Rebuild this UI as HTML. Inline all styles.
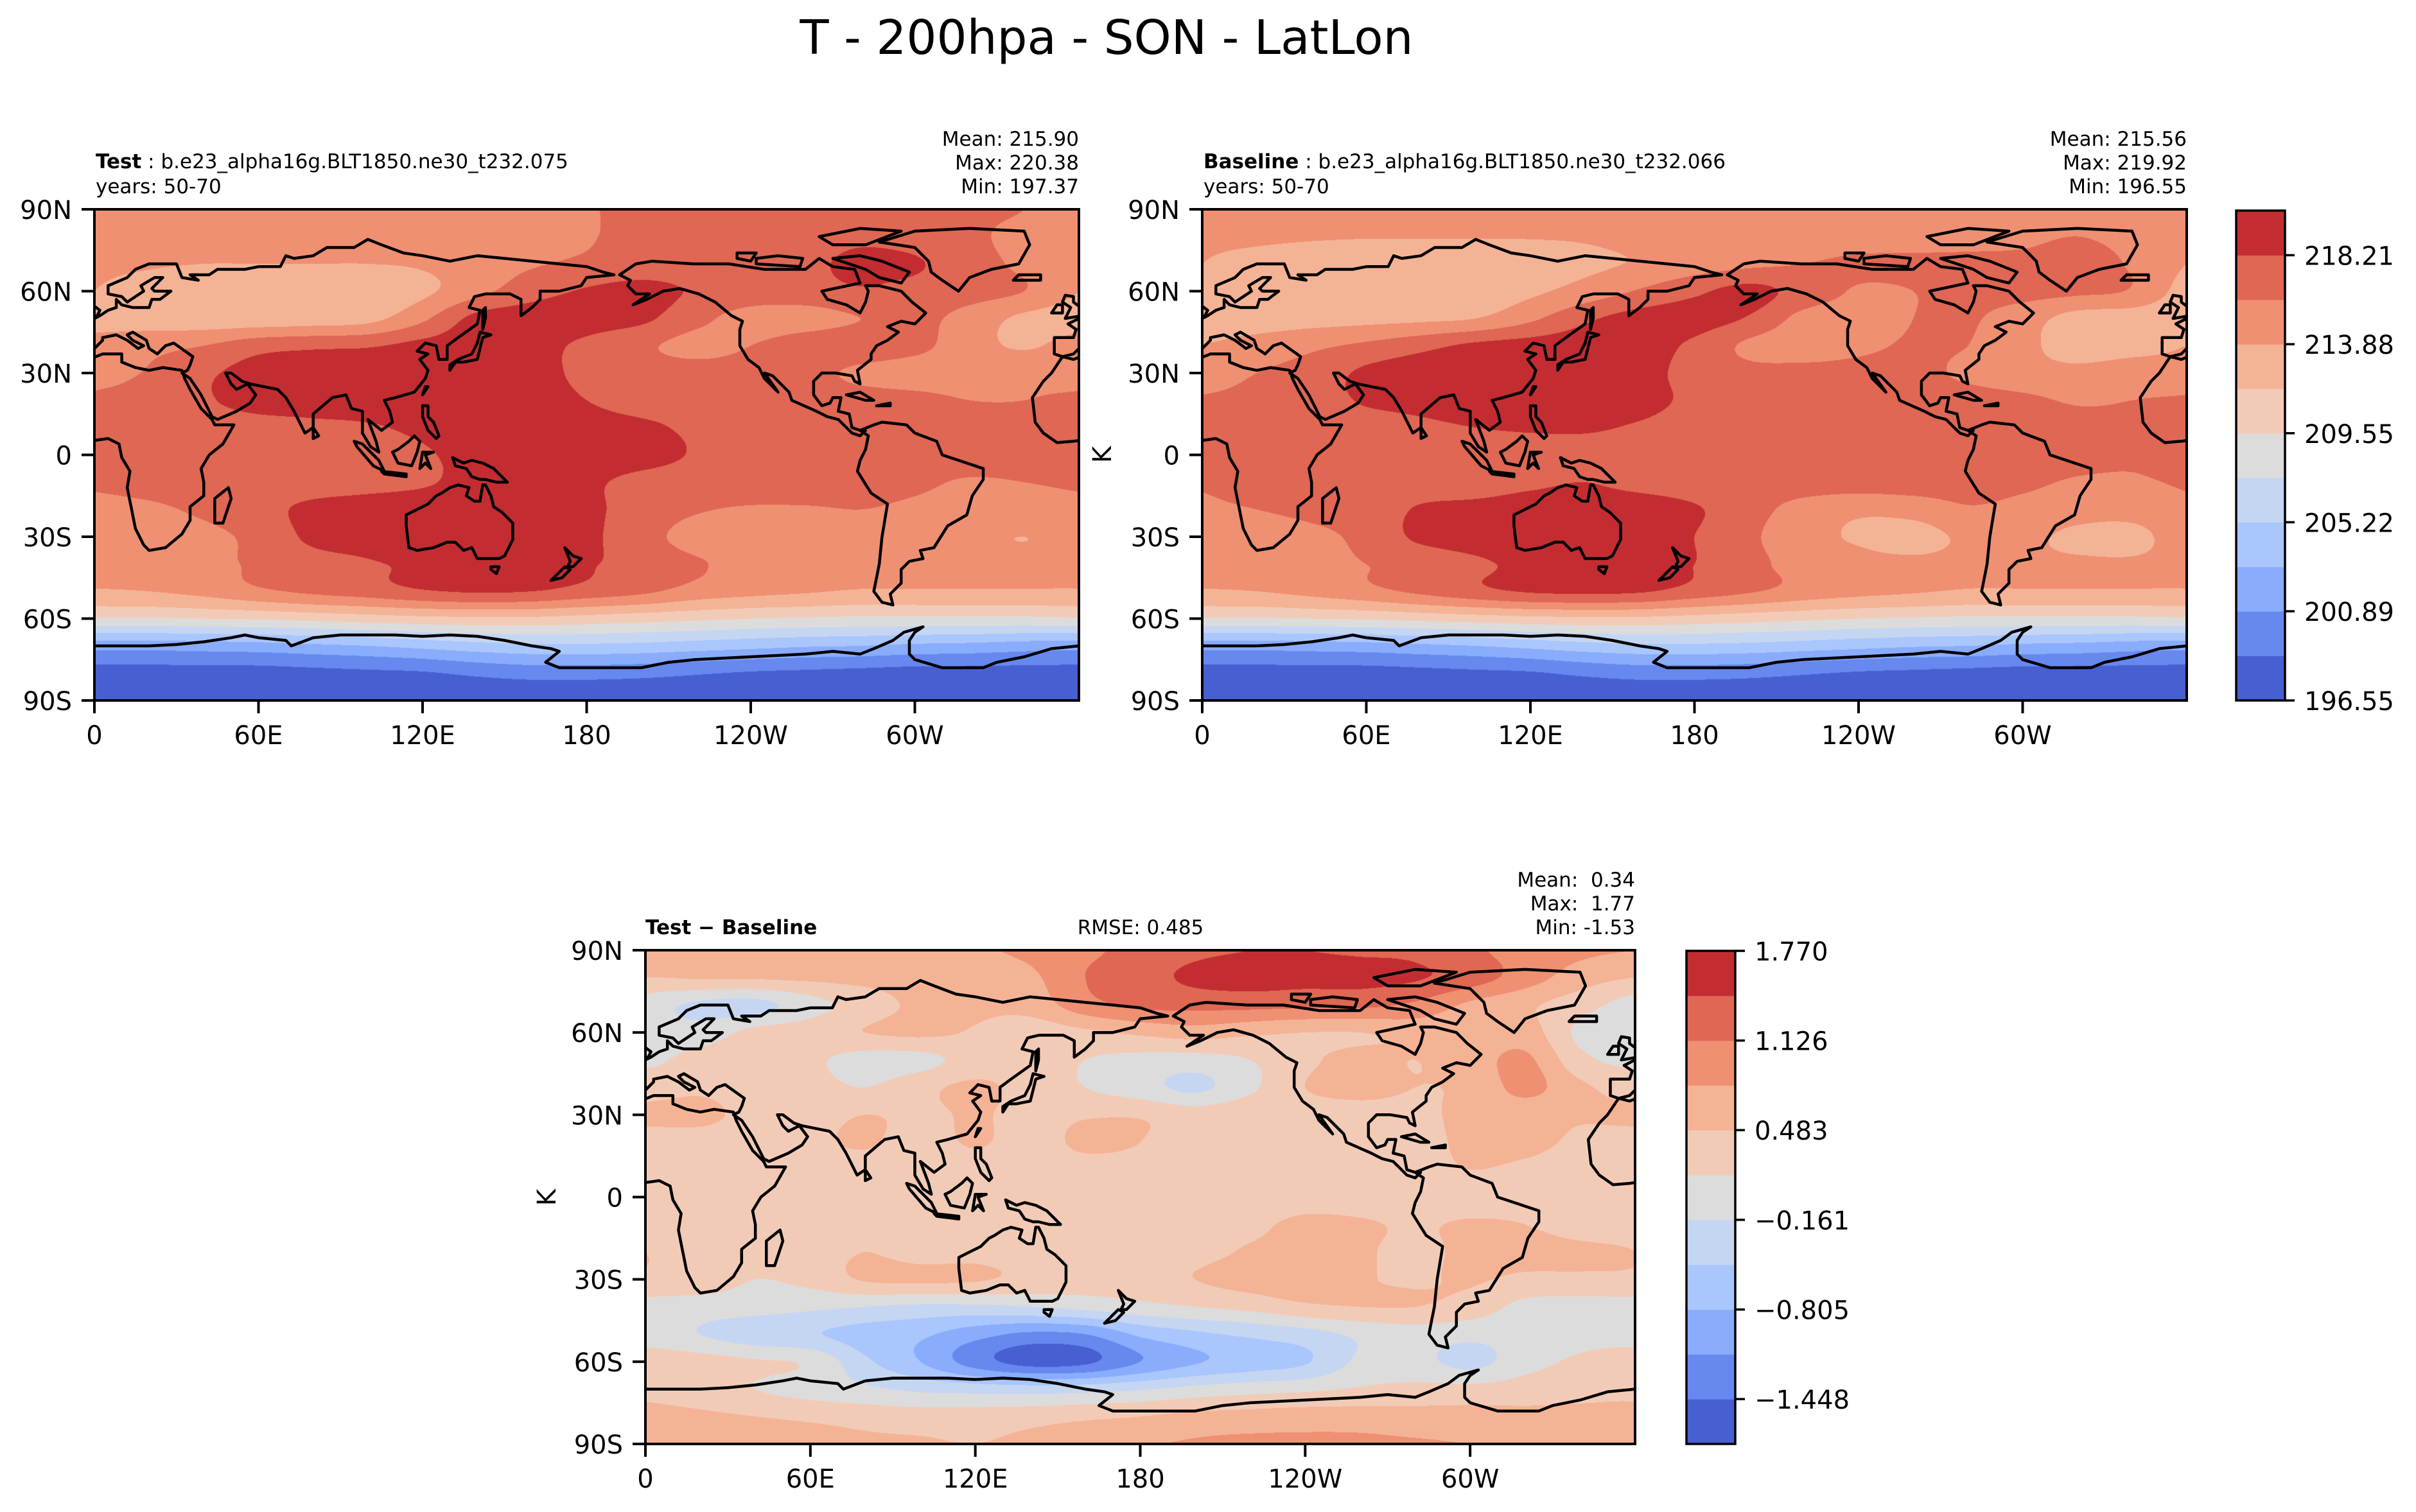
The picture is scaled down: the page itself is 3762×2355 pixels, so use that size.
<!DOCTYPE html>
<html><head><meta charset="utf-8"><style>
html,body{margin:0;padding:0;background:#fff;}
#root{position:relative;width:3762px;height:2355px;overflow:hidden;background:#fff;}
canvas{position:absolute;}
svg{position:absolute;left:0;top:0;}
text{font-family:"DejaVu Sans","Liberation Sans",sans-serif;fill:#000;}
</style></head><body>
<div id="root">
<canvas id="c1" style="left:147px;top:326px" width="1533" height="765"></canvas>
<canvas id="c2" style="left:1872px;top:326px" width="1533" height="765"></canvas>
<canvas id="c3" style="left:1005px;top:1480px" width="1541" height="769"></canvas>
<svg id="ov" width="3762" height="2355">
<text x="1723" y="84" font-size="74" text-anchor="middle">T - 200hpa - SON - LatLon</text>
<text x="149" y="262" font-size="31"><tspan font-weight="bold">Test</tspan> : b.e23_alpha16g.BLT1850.ne30_t232.075</text>
<text x="149" y="301" font-size="31">years: 50-70</text>
<text x="1680" y="227" font-size="31" text-anchor="end">Mean: 215.90</text>
<text x="1680" y="264" font-size="31" text-anchor="end">Max: 220.38</text>
<text x="1680" y="301" font-size="31" text-anchor="end">Min: 197.37</text>
<text x="1874" y="262" font-size="31"><tspan font-weight="bold">Baseline</tspan> : b.e23_alpha16g.BLT1850.ne30_t232.066</text>
<text x="1874" y="301" font-size="31">years: 50-70</text>
<text x="3405" y="227" font-size="31" text-anchor="end">Mean: 215.56</text>
<text x="3405" y="264" font-size="31" text-anchor="end">Max: 219.92</text>
<text x="3405" y="301" font-size="31" text-anchor="end">Min: 196.55</text>
<text x="1005" y="1455" font-size="31" font-weight="bold">Test − Baseline</text>
<text x="1776" y="1455" font-size="31" text-anchor="middle">RMSE: 0.485</text>
<text x="2546" y="1381" font-size="31" text-anchor="end" xml:space="preserve">Mean:  0.34</text>
<text x="2546" y="1418" font-size="31" text-anchor="end" xml:space="preserve">Max:  1.77</text>
<text x="2546" y="1455" font-size="31" text-anchor="end">Min: -1.53</text>
<text transform="translate(1730,708) rotate(-90)" font-size="40" text-anchor="middle">K</text>
<text transform="translate(865,1865) rotate(-90)" font-size="40" text-anchor="middle">K</text>
</svg>
</div>
<script>
// ---- data: fields in colorbar-bin units (0 = lowest level boundary), rows lat 90..-90 step 10, cols lon 0..340 step 20
const testField = [
[8.5,8.5,8.5,8.5,8.5,8.5,8.5,8.5,8.6,8.9,9.3,9.3,9.3,9.3,9.3,9.3,9.2,9.0],
[8.4,8.4,8.4,8.4,8.4,8.4,8.4,8.5,8.6,8.9,9.4,9.4,9.4,9.5,9.8,9.6,9.2,8.7],
[8.3,8.1,8.0,8.0,8.0,8.0,8.1,8.5,8.9,9.2,9.5,9.5,9.6,9.8,10.2,10.1,9.4,8.8],
[8.0,7.6,7.4,7.4,7.4,7.4,7.8,8.7,9.6,10.1,10.3,9.9,9.6,9.6,9.9,9.7,9.4,9.0],
[7.6,7.5,7.4,7.4,7.5,7.7,8.8,10.3,10.5,10.4,10.2,9.3,8.6,8.6,9.0,9.3,8.6,7.8],
[8.4,8.7,9.0,9.6,9.8,9.9,10.3,10.5,10.3,9.8,9.2,8.7,9.0,9.5,9.6,9.3,8.4,7.9],
[8.6,9.1,9.8,10.4,10.6,10.6,10.6,10.6,10.3,9.8,9.5,9.4,9.4,9.3,8.8,8.5,8.5,8.8],
[9.2,9.5,9.9,10.3,10.4,10.5,10.6,10.6,10.4,10.0,9.6,9.5,9.5,9.5,9.4,9.3,9.0,9.0],
[9.4,9.5,9.6,9.7,9.8,9.9,10.2,10.5,10.5,10.4,10.2,9.8,9.5,9.5,9.5,9.5,9.5,9.4],
[9.5,9.5,9.5,9.5,9.5,9.6,9.9,10.3,10.6,10.6,10.4,9.9,9.5,9.5,9.5,9.5,9.5,9.5],
[9.2,9.4,9.5,9.6,9.6,9.7,9.9,10.3,10.5,10.2,9.7,9.5,9.5,9.5,9.4,9.2,8.9,9.0],
[8.6,8.8,9.2,9.7,10.2,10.4,10.5,10.5,10.5,10.2,9.6,9.1,8.9,8.9,9.0,8.8,8.6,8.5],
[8.3,8.4,8.7,9.3,10.2,10.4,10.6,10.6,10.5,10.2,9.4,8.6,8.3,8.2,8.4,8.4,8.2,8.0],
[8.2,8.3,8.6,9.2,9.6,9.9,10.2,10.4,10.4,10.1,9.6,9.1,8.7,8.5,8.4,8.3,8.3,8.2],
[7.9,8.0,8.3,8.8,9.2,9.5,9.9,10.1,10.0,9.6,9.2,8.6,8.3,8.1,7.9,7.9,7.9,7.9],
[5.9,5.9,6.0,6.1,6.3,6.5,6.7,6.8,6.8,6.6,6.4,6.2,6.0,5.9,5.8,5.8,5.8,5.8],
[2.4,2.4,2.5,2.6,2.8,3.0,3.3,3.6,3.8,3.8,3.7,3.5,3.3,3.1,3.0,2.8,2.7,2.5],
[0.6,0.6,0.6,0.6,0.7,0.8,0.9,1.2,1.4,1.4,1.3,1.1,0.9,0.8,0.7,0.6,0.6,0.6],
[0.2,0.2,0.2,0.2,0.2,0.2,0.2,0.2,0.2,0.2,0.2,0.2,0.2,0.2,0.2,0.2,0.2,0.2]];
const baselineField = [
[8.4,8.4,8.4,8.4,8.4,8.4,8.4,8.4,8.4,8.4,8.4,8.4,8.4,8.4,8.4,8.4,8.4,8.4],
[8.3,8.2,8.1,8.05,8.05,8.05,8.05,8.1,8.3,8.4,8.4,8.4,8.5,8.6,8.7,8.8,9.0,8.7],
[8.0,7.6,7.4,7.3,7.3,7.3,7.5,7.8,8.1,8.5,8.8,9.0,9.2,9.2,9.2,9.2,9.3,8.9],
[7.6,7.3,7.2,7.2,7.3,7.4,7.8,8.4,9.1,9.8,10.3,9.6,8.9,9.0,9.2,9.3,9.2,8.9],
[7.4,7.5,7.6,7.7,7.8,8.0,8.8,9.8,10.4,10.4,9.9,8.7,8.6,9.0,9.1,8.5,7.6,7.5],
[8.0,8.4,8.8,9.2,9.7,10.2,10.4,10.5,10.4,9.8,8.8,8.5,8.8,9.1,9.0,8.3,7.5,7.6],
[8.5,9.0,9.4,10.2,10.5,10.5,10.5,10.6,10.3,9.7,9.3,9.3,9.3,9.3,8.8,8.4,8.3,8.6],
[9.1,9.3,9.6,10.1,10.3,10.5,10.5,10.5,10.3,9.8,9.5,9.4,9.4,9.4,9.4,9.2,8.9,9.0],
[9.3,9.4,9.5,9.6,9.8,10.0,10.1,10.1,9.9,9.6,9.5,9.5,9.5,9.5,9.5,9.4,9.3,9.2],
[9.3,9.4,9.5,9.5,9.5,9.5,9.6,9.7,9.6,9.5,9.5,9.5,9.5,9.5,9.5,9.5,9.3,9.1],
[9.1,9.3,9.4,9.5,9.5,9.5,9.8,10.0,9.7,9.5,9.5,9.5,9.5,9.5,9.4,9.2,8.9,8.9],
[8.8,9.0,9.3,9.5,10.1,10.3,10.5,10.5,10.5,10.1,9.4,8.6,8.2,8.4,8.9,8.7,8.4,8.4],
[8.5,8.3,8.7,9.3,10.2,10.5,10.6,10.6,10.5,10.0,9.2,8.3,7.9,7.6,8.2,8.2,7.8,7.7],
[8.2,8.3,8.6,9.0,9.3,9.8,10.3,10.5,10.4,10.0,9.3,8.6,8.3,8.2,8.2,8.1,8.1,8.1],
[7.9,8.0,8.3,8.7,9.2,9.7,10.1,10.2,10.1,9.6,9.1,8.6,8.3,8.1,7.9,7.9,7.9,7.9],
[5.9,5.9,6.0,6.1,6.3,6.5,6.7,6.8,6.8,6.6,6.4,6.2,6.0,5.9,5.8,5.8,5.8,5.8],
[2.4,2.4,2.5,2.6,2.8,3.0,3.3,3.6,3.8,3.8,3.7,3.5,3.3,3.1,3.0,2.8,2.7,2.5],
[0.6,0.6,0.6,0.6,0.7,0.8,0.9,1.2,1.4,1.4,1.3,1.1,0.9,0.8,0.7,0.6,0.6,0.6],
[0.2,0.2,0.2,0.2,0.2,0.2,0.2,0.2,0.2,0.2,0.2,0.2,0.2,0.2,0.2,0.2,0.2,0.2]];
const diffField = [
[8.0,7.9,7.8,7.8,7.8,7.8,7.9,8.2,8.8,9.3,9.8,10.0,10.0,9.9,9.8,9.2,8.6,8.2],
[7.0,7.1,7.1,7.2,7.3,7.4,7.5,7.8,9.0,9.6,10.2,10.4,10.3,10.3,10.1,9.5,8.5,7.5],
[5.5,4.8,4.7,5.6,6.5,7.2,7.2,7.4,8.6,9.2,9.3,9.3,9.2,9.2,8.8,7.8,7.2,6.4],
[5.6,5.5,6.3,6.6,7.0,7.2,6.9,6.5,6.8,7.2,7.5,7.2,7.0,7.0,7.3,7.3,7.5,5.8],
[5.8,6.4,6.6,6.2,5.6,5.7,6.4,6.6,6.0,5.7,5.6,6.0,6.8,7.3,7.0,7.5,8.2,6.3],
[6.6,6.8,6.5,6.4,6.0,6.7,7.2,6.6,6.0,5.4,4.8,5.8,7.0,7.4,7.0,7.2,8.3,7.2],
[7.2,7.3,6.6,6.6,7.0,6.8,7.1,6.7,6.9,6.9,6.5,6.8,6.5,6.5,6.7,7.3,7.4,7.1],
[6.6,6.5,6.5,6.8,7.1,6.6,7.1,6.6,7.2,7.0,6.5,6.9,6.5,6.4,6.5,7.3,7.3,6.8],
[6.5,6.5,6.5,6.5,6.6,6.5,6.5,6.5,6.6,6.6,6.5,6.5,6.5,6.5,6.6,7.0,6.8,6.5],
[6.4,6.5,6.5,6.5,6.5,6.5,6.5,6.5,6.5,6.5,6.5,6.5,6.6,6.6,6.5,6.6,6.6,6.5],
[6.5,6.5,6.5,6.5,6.5,6.5,6.5,6.5,6.5,6.5,6.6,6.8,7.2,7.1,6.9,7.1,7.0,6.6],
[7.0,6.5,6.3,6.5,7.0,6.6,6.7,6.5,6.5,6.5,6.7,7.1,7.2,7.1,6.8,7.2,7.3,7.2],
[6.8,6.6,6.0,6.3,7.1,7.2,7.1,6.7,6.5,6.5,7.0,7.4,7.6,7.1,6.9,7.1,6.8,6.8],
[5.6,5.5,5.4,5.2,5.0,4.8,4.8,5.0,5.3,5.7,6.0,6.3,6.8,7.0,7.0,6.6,5.7,5.6],
[5.5,5.0,4.4,4.1,3.6,3.2,2.4,1.8,2.0,3.2,3.8,4.2,4.6,5.2,5.5,5.3,5.4,5.6],
[6.6,6.4,6.1,5.8,4.2,3.0,1.5,0.6,0.8,2.0,2.9,3.4,3.9,5.2,5.3,4.7,5.6,6.2],
[6.8,6.5,6.0,5.6,5.2,4.8,4.6,4.5,4.6,4.9,5.3,5.6,5.8,6.1,6.3,6.3,6.5,6.7],
[7.3,7.2,7.0,6.8,6.6,6.5,6.5,6.6,6.8,7.0,7.3,7.4,7.5,7.5,7.4,7.4,7.3,7.3],
[8.0,7.9,7.8,7.5,7.2,7.1,7.0,7.2,7.6,7.9,8.1,8.2,8.2,8.2,8.1,8.0,8.0,8.0]];
const topLevels = [196.55,198.72,200.89,203.05,205.22,207.39,209.55,211.72,213.88,216.05,218.21,220.38];
const topTickIdx = [0,2,4,6,8,10];
const topTickLabels = ['196.55','200.89','205.22','209.55','213.88','218.21'];
const diffLevels = [-1.770,-1.448,-1.126,-0.805,-0.483,-0.161,0.161,0.483,0.805,1.126,1.448,1.770];
const diffTickIdx = [1,3,5,7,9,11];
const diffTickLabels = ['\u22121.448','\u22120.805','\u22120.161','0.483','1.126','1.770'];
const lonTicks = [0,60,120,180,240,300];
const lonTickLabels = ['0','60E','120E','180','120W','60W'];
const latTicks = [90,60,30,0,-30,-60,-90];
const latTickLabels = ['90N','60N','30N','0','30S','60S','90S'];
const palette = ['#485fd1','#6788ee','#89acfd','#a9c6fd','#c5d6f2','#dddcdc','#f2cbb7','#f5b396','#ef9072','#df6753','#c32d31'];

const maps = [
 {id:'c1', x:147, y:326, w:1533, h:765, field:testField, name:'test-map'},
 {id:'c2', x:1872, y:326, w:1533, h:765, field:baselineField, name:'baseline-map'},
 {id:'c3', x:1005, y:1480, w:1541, h:769, field:diffField, name:'diff-map'}];

function hex(c){return [parseInt(c.substr(1,2),16),parseInt(c.substr(3,2),16),parseInt(c.substr(5,2),16)];}
const pal = palette.map(hex);
function cr(p0,p1,p2,p3,t){return 0.5*((2*p1)+(-p0+p2)*t+(2*p0-5*p1+4*p2-p3)*t*t+(-p0+3*p1-3*p2+p3)*t*t*t);}
function drawField(m){
 const cv=document.getElementById(m.id), ctx=cv.getContext('2d');
 const img=ctx.createImageData(m.w,m.h), d=img.data, F=m.field, nr=F.length, nc=F[0].length;
 const rowBuf = new Float64Array(nc);
 for(let py=0;py<m.h;py++){
  const lat=90-(py+0.5)/m.h*180; const fy=(90-lat)/10; const j=Math.floor(fy); const ty=fy-j;
  const r=k=>F[Math.max(0,Math.min(nr-1,k))];
  const r0=r(j-1),r1=r(j),r2=r(j+1),r3=r(j+2);
  for(let c=0;c<nc;c++) rowBuf[c]=cr(r0[c],r1[c],r2[c],r3[c],ty);
  for(let px=0;px<m.w;px++){
   const lon=(px+0.5)/m.w*360; const fx=lon/20; const i=Math.floor(fx); const tx=fx-i;
   const g=k=>rowBuf[((k%nc)+nc)%nc];
   const v=cr(g(i-1),g(i),g(i+1),g(i+2),tx);
   let L=Math.floor(v); if(L<0)L=0; if(L>10)L=10;
   const o=(py*m.w+px)*4, col=pal[L];
   d[o]=col[0];d[o+1]=col[1];d[o+2]=col[2];d[o+3]=255;
  }
 }
 ctx.putImageData(img,0,0);
}
maps.forEach(drawField);

// ---- coastlines (geography, lon -180..190)
const coasts = [
[[-17,21],[-16,12],[-13,8],[-8,4.5],[-2,5],[5,6],[9,4],[10,-1],[13,-6],[12,-12],[13,-17],[15,-27],[18,-33],[20,-35],[26,-34],[32,-29],[35,-24],[35,-19],[40,-15],[40,-10],[39,-5],[42,0],[47,4],[51,11],[44,11],[43,13],[39,17],[35,24],[33,28],[32,31],[25,32],[20,31],[15,32],[10,34],[10,37],[3,37],[-2,35],[-6,36],[-10,30],[-13,27],[-17,21]],
[[44,-25],[47,-25],[50,-16],[49,-12],[44,-16],[44,-25]],
[[-9,43],[-9,37],[-6,36],[-2,37],[3,42],[3,43],[8,44],[12,42],[16,39],[18,40],[14,42],[12,44],[14,45],[19,42],[20,39],[23,37],[26,40],[29,41],[36,36],[35,33],[34,31],[32,30],[35,28],[39,22],[43,14],[45,13],[52,16],[57,19],[59,22],[56,26],[52,24],[50,26],[48,30],[50,30],[54,27],[57,26],[62,25],[67,24],[70,21],[73,16],[77,8],[80,10],[80,15],[87,21],[92,22],[94,17],[98,16],[98,8],[101,3],[104,1],[103,5],[100,13],[105,9],[109,12],[108,16],[106,20],[110,21],[117,23],[121,28],[122,31],[119,35],[122,37],[118,38],[121,41],[125,40],[126,35],[129,35],[129,40],[133,43],[140,48],[141,53],[137,54],[139,58],[143,59],[152,59],[156,57],[156,51],[160,54],[163,57],[163,60],[170,60],[178,62],[180,65],[190,66],[186,67],[180,69],[170,70],[160,71],[150,72],[140,73],[130,71],[120,73],[113,74],[105,77],[100,79],[95,76],[85,76],[80,73],[73,72],[70,73],[68,69],[60,69],[55,68],[45,68],[42,66],[35,66],[38,64],[32,65],[30,70],[20,70],[15,68],[12,65],[5,62],[5,59],[10,58],[12,56],[18,60],[17,62],[22,65],[25,65],[21,61],[22,60],[28,60],[24,57],[21,57],[20,54],[14,54],[10,55],[8,57],[8,54],[5,53],[2,51],[-2,49],[-4,48],[-1,46],[-2,43],[-9,43]],
[[-5,50],[1,51],[2,53],[-2,56],[-2,58],[-5,58.5],[-6,56],[-3,54],[-5,50]],
[[-10,52],[-6,52],[-6,55],[-8,55],[-10,52]],
[[-24,64],[-14,64],[-14,66],[-22,66],[-24,64]],
[[130,31],[132,34],[135,34],[140,35],[141,39],[142,43],[145,44],[141,45],[140,41],[138,37],[133,35],[130,33],[130,31]],
[[142,46],[143,50],[143,54],[142,53],[142,46]],
[[120,22],[122,25],[121,25],[120,22]],
[[120,18],[122,18],[122,14],[124,12],[126,7],[125,6],[122,9],[120,14],[120,18]],
[[109,1],[111,2],[115,5],[117,7],[119,5],[118,1],[116,-4],[111,-3],[109,1]],
[[95,5],[98,4],[104,-2],[106,-6],[102,-4],[96,3],[95,5]],
[[105,-6],[114,-7],[114,-8],[106,-7],[105,-6]],
[[119,-5],[120,1],[124,1],[121,0],[123,-5],[121,-3],[119,-5]],
[[131,-1],[135,-3],[138,-2],[142,-3],[146,-5],[151,-10],[147,-10],[143,-9],[141,-9],[138,-8],[136,-5],[132,-4],[131,-1]],
[[114,-22],[114,-26],[115,-34],[118,-35],[124,-34],[129,-32],[132,-32],[135,-35],[138,-34],[140,-38],[144,-38],[148,-38],[150,-37],[153,-31],[153,-25],[149,-21],[146,-19],[145,-15],[143,-11],[142,-11],[141,-17],[139,-17],[136,-15],[137,-12],[133,-11],[130,-12],[127,-14],[125,-15],[122,-18],[118,-20],[114,-22]],
[[145,-41],[148,-41],[147,-43.5],[145,-42],[145,-41]],
[[172,-34],[175,-37],[178,-38],[177,-39],[175,-41],[173,-41],[174,-39],[172,-34]],
[[172,-41],[174,-42],[171,-45],[167,-46],[170,-43],[172,-41]],
[[80,6],[82,7],[80,10],[80,6]],
[[-168,66],[-162,70],[-156,71],[-141,70],[-128,70],[-115,68],[-100,68],[-95,72],[-90,69],[-82,68],[-80,63],[-94,60],[-92,57],[-85,55],[-80,52],[-78,56],[-77,60],[-78,62],[-73,62],[-65,60],[-61,56],[-56,52],[-60,48],[-65,49],[-70,47],[-66,45],[-70,42],[-74,40],[-76,37],[-76,35],[-81,31],[-80,26],[-82,27],[-83,29],[-89,30],[-94,30],[-97,27],[-97,22],[-94,18],[-91,19],[-90,21],[-87,21],[-88,16],[-84,15],[-83,10],[-80,9],[-78,9],[-80,7],[-83,8],[-86,11],[-88,13],[-92,14],[-96,16],[-105,20],[-106,23],[-112,29],[-115,30],[-110,23],[-112,25],[-115,28],[-117,32],[-121,35],[-124,40],[-124,46],[-123,49],[-127,51],[-133,56],[-139,59],[-146,61],[-152,60],[-158,57],[-163,55],[-157,59],[-162,59],[-165,62],[-164,64],[-168,66]],
[[-73,78],[-60,82],[-40,83],[-20,82],[-18,77],[-22,70],[-32,68],[-40,65],[-44,60],[-50,64],[-54,67],[-55,71],[-60,76],[-73,78]],
[[-80,73],[-72,71],[-62,67],[-65,63],[-73,65],[-78,68],[-90,72],[-80,73]],
[[-118,70],[-102,69],[-101,72],[-110,73],[-118,72],[-118,70]],
[[-90,77],[-78,77],[-65,82],[-80,83],[-95,80],[-90,77]],
[[-125,72],[-120,71],[-118,74],[-125,74],[-125,72]],
[[-85,22],[-80,23],[-75,20],[-78,20],[-85,22]],
[[-74,18],[-69,19],[-69,18],[-74,18]],
[[-80,9],[-75,11],[-72,12],[-63,11],[-60,8],[-52,5],[-50,0],[-44,-2],[-35,-5],[-35,-9],[-39,-15],[-41,-22],[-48,-26],[-53,-34],[-58,-35],[-57,-38],[-62,-39],[-65,-42],[-65,-47],[-69,-51],[-68,-55],[-72,-54],[-75,-50],[-74,-45],[-73,-40],[-72,-30],[-70,-18],[-76,-14],[-81,-6],[-80,-2],[-78,2],[-77,7],[-80,9]]];
const antarctica = [[-180,-78],[-160,-78],[-150,-76],[-140,-75],[-120,-74],[-100,-73],[-90,-72],[-80,-73],[-75,-71],[-68,-68],[-64,-65],[-57,-63],[-60,-65],[-62,-68],[-62,-73],[-60,-75],[-50,-78],[-35,-78],[-30,-76],[-20,-74],[-10,-71],[0,-70],[10,-70],[20,-70],[30,-69.5],[40,-68.5],[50,-67],[55,-66],[60,-67],[70,-68],[72,-70],[80,-67],[90,-66],[100,-66],[110,-66],[120,-66.5],[130,-66],[140,-66.5],[150,-68],[160,-70],[167,-71],[170,-72],[165,-76],[170,-78],[180,-78]];

const NS='http://www.w3.org/2000/svg';
const svg=document.getElementById('ov');
function mk(tag,attrs){const e=document.createElementNS(NS,tag);for(const k in attrs)e.setAttribute(k,attrs[k]);return e;}

maps.forEach((m,mi)=>{
 const clip=mk('clipPath',{id:'clip'+mi});
 clip.appendChild(mk('rect',{x:m.x,y:m.y,width:m.w,height:m.h}));
 svg.appendChild(clip);
 const g=mk('g',{'clip-path':'url(#clip'+mi+')'});
 
 
 const px=(lon,off)=>m.x+(lon+off)/360*m.w, py=lat=>m.y+(90-lat)/180*m.h;
 let dstr='';
 [-360,0,360].forEach(off=>{
  coasts.forEach(poly=>{dstr+='M'+poly.map(p=>px(p[0],off).toFixed(1)+','+py(p[1]).toFixed(1)).join('L')+'Z';});
  dstr+='M'+antarctica.map(p=>px(p[0],off).toFixed(1)+','+py(p[1]).toFixed(1)).join('L');
 });
 const path=mk('path',{d:dstr,fill:'none',stroke:'#000','stroke-width':4.5,'stroke-linejoin':'round'});
 
 
 g.appendChild(path);
 svg.appendChild(g);
 const fr=mk('rect',{x:m.x,y:m.y,width:m.w,height:m.h,fill:'none',stroke:'#000','stroke-width':4});
 
 
 svg.appendChild(fr);
 lonTicks.forEach((lon,k)=>{
  const x=m.x+lon/360*m.w;
  const t=mk('line',{x1:x,y1:m.y+m.h,x2:x,y2:m.y+m.h+20,stroke:'#000','stroke-width':4});
  
  
  svg.appendChild(t);
  const tx=mk('text',{x:x,y:m.y+m.h+68,'font-size':40,'text-anchor':'middle'});
  tx.textContent=lonTickLabels[k];
  
  
  svg.appendChild(tx);
 });
 latTicks.forEach((lat,k)=>{
  const y=m.y+(90-lat)/180*m.h;
  const t=mk('line',{x1:m.x-20,y1:y,x2:m.x,y2:y,stroke:'#000','stroke-width':4});
  
  
  svg.appendChild(t);
  const tx=mk('text',{x:m.x-35,y:y+15,'font-size':40,'text-anchor':'end'});
  tx.textContent=latTickLabels[k];
  
  
  svg.appendChild(tx);
 });
});

function colorbar(x,y,w,h,levels,tickIdx,tickLabels,name){
 const n=levels.length-1, lo=levels[0], hi=levels[n];
 const yv=v=>y+h-(v-lo)/(hi-lo)*h;
 for(let i=0;i<n;i++){
  const r=mk('rect',{x:x,y:yv(levels[i+1]),width:w,height:yv(levels[i])-yv(levels[i+1])+0.5,fill:palette[i]});
  
  
  svg.appendChild(r);
 }
 const fr=mk('rect',{x:x,y:y,width:w,height:h,fill:'none',stroke:'#000','stroke-width':3.5});
 
 
 svg.appendChild(fr);
 tickIdx.forEach((idx,k)=>{
  const ty=yv(levels[idx]);
  const t=mk('line',{x1:x+w,y1:ty,x2:x+w+15,y2:ty,stroke:'#000','stroke-width':3.5});
  
  
  svg.appendChild(t);
  const tx=mk('text',{x:x+w+30,y:ty+15,'font-size':40});
  tx.textContent=tickLabels[k];
  
  
  svg.appendChild(tx);
 });
}
colorbar(3482,328,76,763,topLevels,topTickIdx,topTickLabels,'top-colorbar');
colorbar(2626,1481,76,768,diffLevels,diffTickIdx,diffTickLabels,'diff-colorbar');
</script>
</body></html>
